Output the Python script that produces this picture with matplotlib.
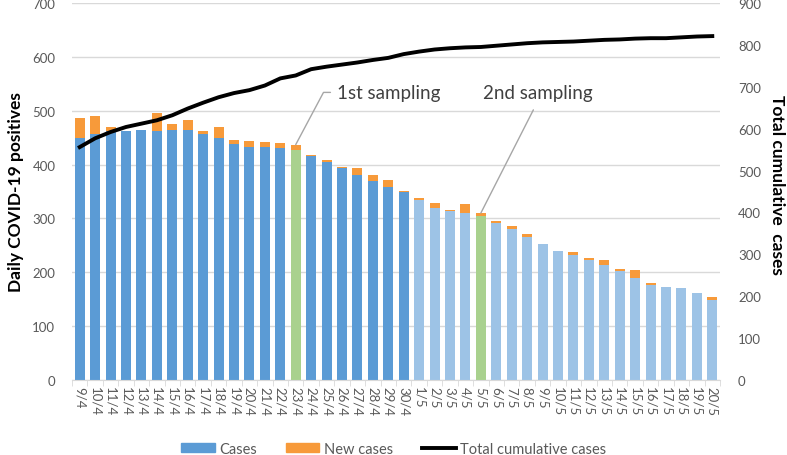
import numpy as np
import matplotlib
matplotlib.use('Agg')
import matplotlib.pyplot as plt
from matplotlib.patches import Patch
from matplotlib.lines import Line2D

plt.rcParams['font.family'] = ['Lato', 'DejaVu Sans']

dates = ['9/4', '10/4', '11/4', '12/4', '13/4', '14/4', '15/4', '16/4', '17/4', '18/4',
         '19/4', '20/4', '21/4', '22/4', '23/4', '24/4', '25/4', '26/4', '27/4', '28/4',
         '29/4', '30/4', '1/5', '2/5', '3/5', '4/5', '5/5', '6/5', '7/5', '8/5',
         '9/5', '10/5', '11/5', '12/5', '13/5', '14/5', '15/5', '16/5', '17/5', '18/5',
         '19/5', '20/5']
cases = [450, 457, 463, 462, 464, 462, 464, 464, 457, 449,
         439, 432, 433, 430, 427, 416, 405, 394, 380, 370,
         359, 349, 335, 319, 313, 310, 305, 292, 280, 265,
         252, 240, 233, 222, 214, 202, 189, 177, 173, 171,
         161, 149]
new_cases = [36, 33, 6, 1, 1, 34, 11, 19, 6, 20,
             7, 11, 9, 10, 10, 2, 3, 1, 13, 10,
             12, 2, 3, 9, 2, 17, 5, 3, 6, 6,
             0, 0, 5, 4, 9, 4, 16, 3, 0, 0,
             1, 6]
total_cum = [556, 577, 592, 604, 612, 620, 632, 648, 662, 675,
             685, 692, 703, 720, 727, 742, 748, 753, 758, 764,
             769, 778, 784, 789, 792, 794, 795, 798, 801, 804,
             806, 807, 808, 810, 812, 813, 815, 816, 816, 818,
             820, 821]
sampling_days = ['23/4', '5/5']

dark_blue = '#5B9BD5'
light_blue = '#9DC3E6'
green = '#A9D18E'
orange = '#F79A3A'
grid_c = '#D9D9D9'
text_c = '#595959'

x = np.arange(len(dates))
split = dates.index('1/5')
colors = []
for i, d in enumerate(dates):
    if d in sampling_days:
        colors.append(green)
    elif i < split:
        colors.append(dark_blue)
    else:
        colors.append(light_blue)

fig = plt.figure(figsize=(7.87, 4.56), dpi=100)
ax = fig.add_axes([72/787, 1-381/456, (720-72)/787, (381-4)/456])
ax.bar(x, cases, width=0.65, color=colors, zorder=2)
ax.bar(x, new_cases, bottom=cases, width=0.65, color=orange, zorder=2)

ax.set_ylim(0, 700)
ax.set_yticks(range(0, 701, 100))
ax.set_xlim(-0.5, len(dates) - 0.5)
ax.yaxis.grid(True, color=grid_c, linewidth=1, zorder=0)
ax.set_axisbelow(True)
for s in ['top', 'left', 'right']:
    ax.spines[s].set_visible(False)
ax.spines['bottom'].set_color(grid_c)
ax.tick_params(axis='y', length=0, pad=12, labelsize=9.5, labelcolor=text_c)
ax.set_xticks(x)
ax.set_xticklabels(dates, rotation=-90, fontsize=9.5, color=text_c)
ax.tick_params(axis='x', length=0, pad=4)
ax.set_xticks(np.arange(-0.5, len(dates), 1), minor=True)
ax.tick_params(axis='x', which='minor', length=4, color=grid_c)
ax.set_ylabel('Daily COVID-19 positives', fontsize=12.5, fontweight='bold', labelpad=6)

ax2 = ax.twinx()
ax2.plot(x, total_cum, color='black', linewidth=2.8, zorder=3)
ax2.set_ylim(0, 900)
ax2.set_yticks(range(0, 901, 100))
for s in ['top', 'left', 'right', 'bottom']:
    ax2.spines[s].set_visible(False)
ax2.tick_params(axis='y', length=0, pad=13, labelsize=9.5, labelcolor=text_c)
fig.text(777/787, 1-185/456, 'Total cumulative  cases', fontsize=12.5, fontweight='bold',
         rotation=-90, ha='center', va='center')

i1 = dates.index(sampling_days[0])
i2 = dates.index(sampling_days[1])
ax.annotate('1st sampling', xy=(i1, cases[i1] + new_cases[i1]), xytext=(16.7, 534),
            fontsize=13.5, color='#404040', ha='left', va='center',
            arrowprops=dict(arrowstyle='-', color='#A6A6A6', lw=1, shrinkA=3, shrinkB=0,
                            relpos=(0, 0.5), connectionstyle='angle,angleA=0,angleB=62,rad=0'))
ax.annotate('2nd sampling', xy=(i2, cases[i2] + new_cases[i2]), xytext=(29.7, 534),
            fontsize=13.5, color='#404040', ha='center', va='center',
            arrowprops=dict(arrowstyle='-', color='#A6A6A6', lw=1, shrinkA=5, shrinkB=0,
                            relpos=(0.5, 0)))

handles = [Patch(color=dark_blue), Patch(color=orange), Line2D([], [], color='black', lw=2.8)]
fig.legend(handles, ['Cases', 'New cases', 'Total cumulative cases'], loc='lower center',
           bbox_to_anchor=(0.5, -0.03), ncol=3, frameon=False, fontsize=10.5,
           handlelength=2.3, handleheight=0.6, columnspacing=2.0, handletextpad=0.3,
           labelcolor=text_c)

fig.savefig('out.png', dpi=100)
